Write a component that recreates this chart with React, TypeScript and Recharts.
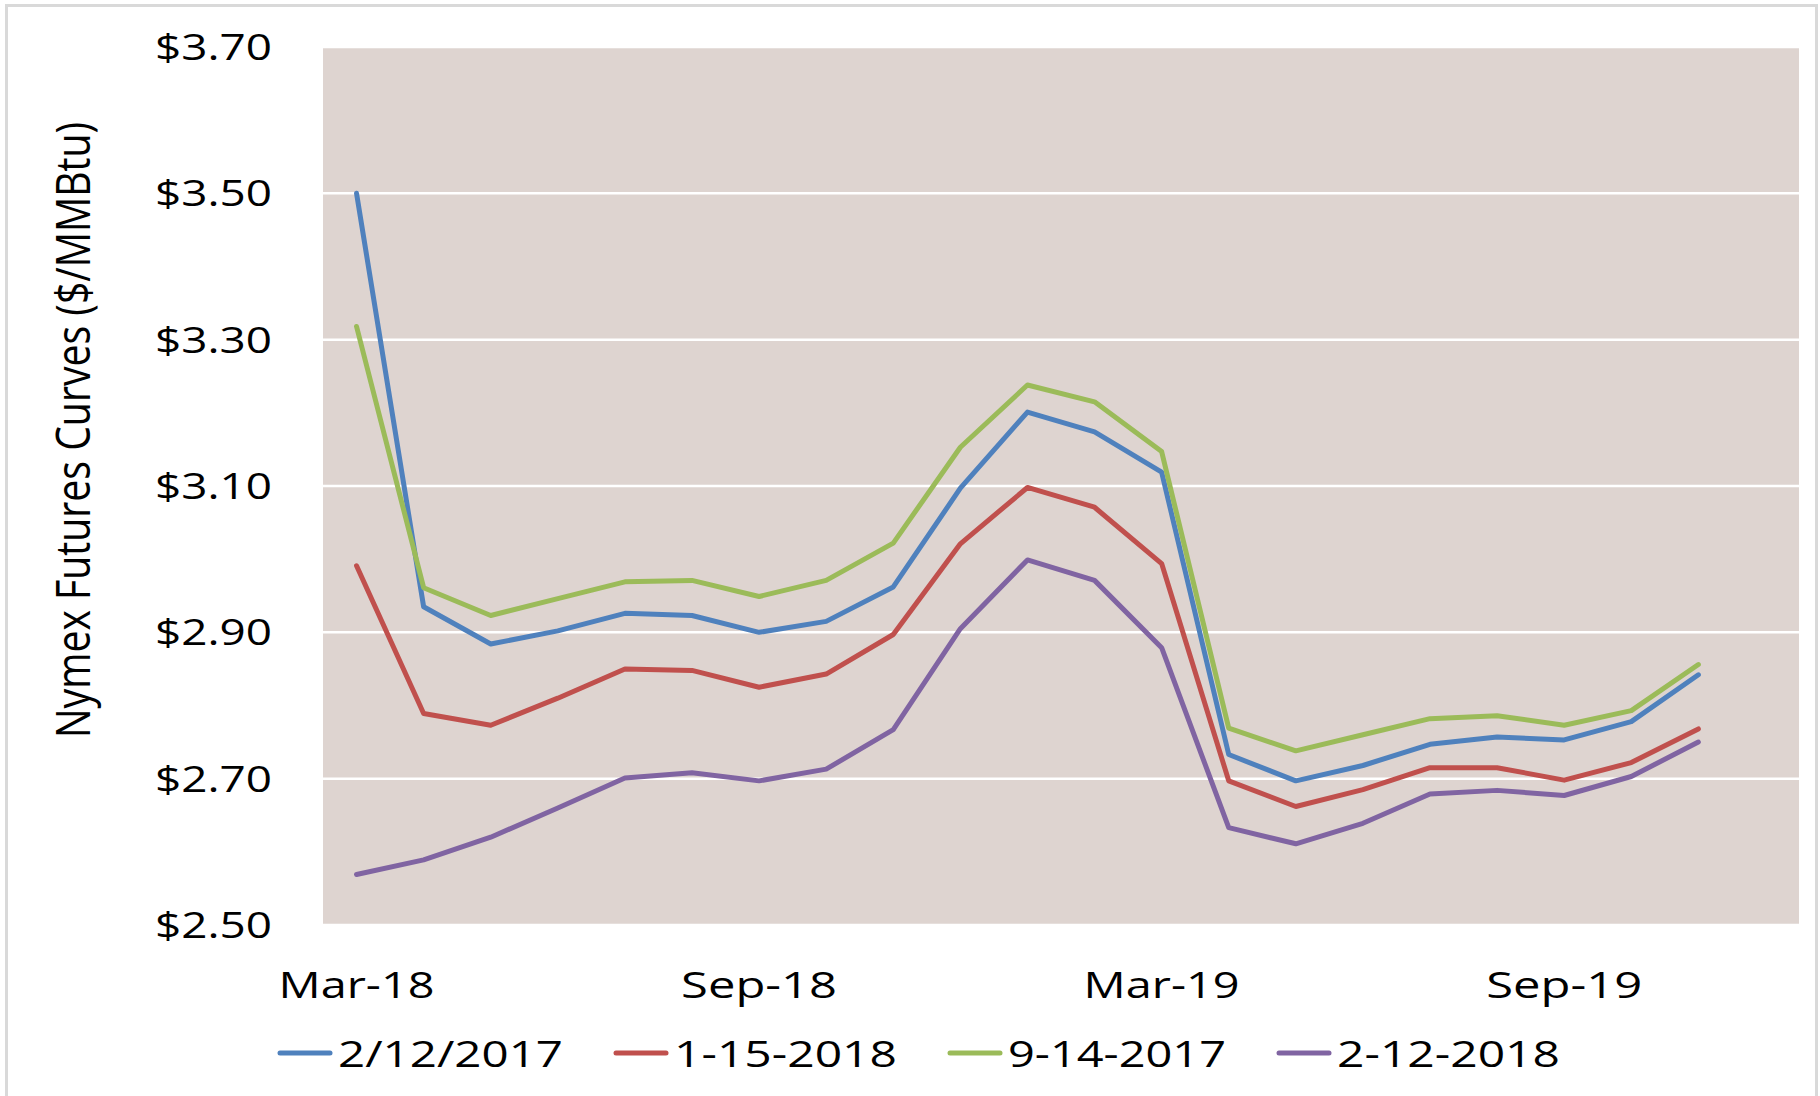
import React from 'react';
import { LineChart, Line, XAxis, YAxis, CartesianGrid, Legend, Label } from 'recharts';

const months = [
  'Mar-18', 'Apr-18', 'May-18', 'Jun-18', 'Jul-18', 'Aug-18', 'Sep-18', 'Oct-18', 'Nov-18', 'Dec-18',
  'Jan-19', 'Feb-19', 'Mar-19', 'Apr-19', 'May-19', 'Jun-19', 'Jul-19', 'Aug-19', 'Sep-19', 'Oct-19',
  'Nov-19', 'Dec-19',
];

const curve20170212 = [3.50, 2.935, 2.884, 2.902, 2.926, 2.923, 2.900, 2.915, 2.962, 3.097, 3.201, 3.174, 3.119, 2.733, 2.697, 2.718, 2.747, 2.757, 2.753, 2.778, 2.842, null];
const curve20180115 = [2.991, 2.789, 2.773, 2.810, 2.850, 2.848, 2.825, 2.843, 2.897, 3.021, 3.098, 3.071, 2.994, 2.697, 2.662, 2.685, 2.715, 2.715, 2.698, 2.722, 2.768, null];
const curve20170914 = [3.318, 2.961, 2.923, 2.946, 2.969, 2.971, 2.949, 2.971, 3.022, 3.153, 3.238, 3.215, 3.147, 2.769, 2.738, 2.760, 2.782, 2.786, 2.773, 2.793, 2.856, null];
const curve20180212 = [2.569, 2.589, 2.620, 2.660, 2.701, 2.708, 2.697, 2.713, 2.767, 2.905, 2.999, 2.971, 2.879, 2.633, 2.611, 2.639, 2.679, 2.684, 2.677, 2.703, 2.750, null];

const seriesNames = ['2/12/2017', '1-15-2018', '9-14-2017', '2-12-2018'];
const seriesValues = [curve20170212, curve20180115, curve20170914, curve20180212];
const seriesColors = ['#4F81BD', '#C0504D', '#9BBB59', '#8064A2'];
const yTicks = [2.5, 2.7, 2.9, 3.1, 3.3, 3.5, 3.7];
const yTitle = 'Nymex Futures Curves ($/MMBtu)';

const data = months.map((m, i) => {
  const row: any = { month: m };
  seriesValues.forEach((vals, k) => {
    row['s' + k] = vals[i];
  });
  return row;
});

const FONT = '"Open Sans", "DejaVu Sans", sans-serif';
const legendTextWidths = [225, 223, 218, 223];

const YTick = (props: any) => {
  const { x, y, payload } = props;
  return (
    <text x={x - 51} y={y + 13} textAnchor="end" fontFamily={FONT} fontSize={37} fill="#000"
      textLength={117} lengthAdjust="spacingAndGlyphs">
      {'$' + Number(payload.value).toFixed(2)}
    </text>
  );
};

const XTick = (props: any) => {
  const { x, y, payload } = props;
  return (
    <text x={x} y={y + 73} textAnchor="middle" fontFamily={FONT} fontSize={37} fill="#000"
      textLength={156} lengthAdjust="spacingAndGlyphs">
      {payload.value}
    </text>
  );
};

const renderTitle = () => (
  <text transform="translate(90,430) rotate(-90)" textAnchor="middle" fontFamily={FONT} fontSize={47}
    fill="#000" textLength={616} lengthAdjust="spacingAndGlyphs">
    {yTitle}
  </text>
);

const renderLegend = () => {
  let cx = 278;
  return (
    <svg width={1820} height={60} style={{ display: 'block' }}>
      {seriesNames.map((n, i) => {
        const x0 = cx;
        const tw = legendTextWidths[i];
        cx += 54 + 6 + tw + 51;
        return (
          <g key={n}>
            <line x1={x0 + 2} x2={x0 + 52} y1={30} y2={30} stroke={seriesColors[i]} strokeWidth={5} strokeLinecap="round" />
            <text x={x0 + 60} y={44} fontFamily={FONT} fontSize={37} fill="#000" textLength={tw} lengthAdjust="spacingAndGlyphs">
              {n}
            </text>
          </g>
        );
      })}
    </svg>
  );
};

export default function App() {
  return (
    <div style={{ position: 'absolute', left: 0, top: 0, width: 1820, height: 1096, overflow: 'hidden', background: '#fff' }}>
      <div style={{ position: 'absolute', left: 5, top: 4, width: 1813, height: 1200, border: '3px solid #D9D9D9', boxSizing: 'border-box' }} />
      <div style={{ position: 'absolute', left: 0, top: 0 }}>
        <LineChart width={1820} height={1096} data={data} margin={{ top: 47, right: 21, left: 0, bottom: 0 }}>
          <CartesianGrid horizontal vertical={false} stroke="#FFFFFF" strokeWidth={2.5} fill="#DED4D0" fillOpacity={1} />
          <XAxis dataKey="month" scale="band" interval={5} axisLine={false} tickLine={false} tickSize={0} tickMargin={0}
            height={171} tick={<XTick />} />
          <YAxis domain={[2.5, 3.7]} ticks={yTicks} type="number" axisLine={false} tickLine={false} tickSize={0} tickMargin={0}
            width={323} tick={<YTick />} allowDataOverflow>
            <Label content={renderTitle} />
          </YAxis>
          {seriesNames.map((n, i) => (
            <Line key={n} type="linear" dataKey={'s' + i} name={n} stroke={seriesColors[i]} strokeWidth={5}
              dot={false} activeDot={false} isAnimationActive={false} strokeLinejoin="round" strokeLinecap="round" />
          ))}
          <Legend layout="horizontal" verticalAlign="middle" align="center" content={renderLegend}
            wrapperStyle={{ top: 1023, left: 0, width: 1820, height: 60 }} />
        </LineChart>
      </div>
    </div>
  );
}
